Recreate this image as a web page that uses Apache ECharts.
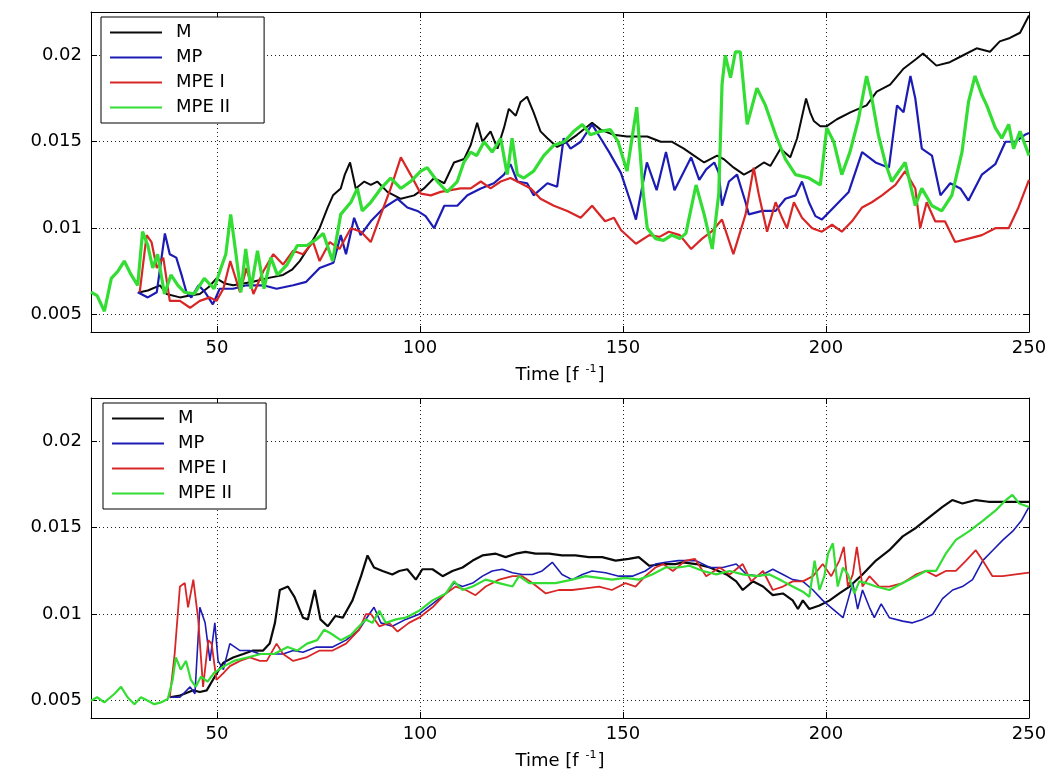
<!DOCTYPE html>
<html>
<head>
<meta charset="utf-8">
<script src="https://cdn.jsdelivr.net/npm/echarts@6/dist/echarts.min.js"></script>
<style>
html,body{margin:0;padding:0;background:#fff;}
#chart{width:1052px;height:771px;}
</style>
</head>
<body>
<div id="chart"></div>
<script>
// ---------- data ----------
const seriesNames = ['M', 'MP', 'MPE I', 'MPE II'];
const xTicks = [50, 100, 150, 200, 250];
const yTicks = [0.005, 0.01, 0.015, 0.02];
const xLabelMain = 'Time [f';
const xLabelSup = '-1';
const xLabelEnd = ']';

// upper panel
const topM = [[31,0.0063],[33,0.0064],[36,0.0067],[37.6,0.0062],[40.9,0.006],[43,0.0061],[45.8,0.0062],[48,0.0066],[49.9,0.0071],[52,0.0068],[54,0.0067],[56.5,0.0068],[58.9,0.0069],[62.2,0.0071],[66.3,0.0073],[68.5,0.0076],[70.4,0.0081],[72.9,0.009],[75.3,0.01],[77.3,0.0112],[78.6,0.0119],[80.5,0.0123],[81.5,0.0131],[82.8,0.0138],[84.2,0.0123],[86.3,0.0127],[87.9,0.0125],[89.5,0.0127],[92,0.0121],[95.3,0.0117],[98.6,0.0119],[101,0.0123],[103.5,0.0129],[106,0.0126],[108.4,0.0138],[110.9,0.014],[112.5,0.0148],[114.1,0.0161],[115.4,0.015],[117.4,0.0156],[119.1,0.0146],[120.7,0.0158],[121.9,0.0169],[123.6,0.0165],[124.8,0.0173],[126.4,0.0176],[128,0.0167],[129.7,0.0156],[131.4,0.0152],[133.8,0.0147],[136.3,0.015],[138.7,0.0154],[142.4,0.0161],[144.5,0.0157],[147.7,0.0154],[151,0.0153],[156,0.0153],[159.3,0.015],[162,0.015],[165,0.0146],[167.5,0.0142],[170,0.0138],[173.2,0.0142],[174.8,0.014],[177.3,0.0135],[179.8,0.0131],[182.2,0.0134],[184.7,0.0138],[186.3,0.0136],[188.8,0.0146],[191.2,0.0141],[192.9,0.0152],[195.1,0.0175],[196.1,0.0167],[197,0.0162],[198.6,0.0159],[200.2,0.0159],[202.7,0.0163],[206,0.0167],[210,0.0171],[212.5,0.0179],[215.8,0.0183],[219,0.0192],[222.3,0.0198],[223.9,0.0201],[227.2,0.0194],[230.5,0.0196],[233.8,0.02],[237.1,0.0204],[240.4,0.0202],[242.8,0.0208],[245.3,0.021],[247.8,0.0213],[250,0.0223]];
const topMP = [[30.5,0.0063],[33,0.006],[35.2,0.0063],[37.2,0.0097],[38.4,0.0085],[40,0.0083],[41.3,0.0073],[42.5,0.0063],[43.7,0.006],[45.5,0.0067],[47.1,0.0063],[49,0.0056],[50.7,0.0065],[54,0.0065],[57.3,0.0067],[61.4,0.0067],[64.7,0.0065],[68.8,0.0067],[72,0.0069],[75.3,0.0077],[78.7,0.008],[80.5,0.0096],[81.8,0.0085],[83.8,0.0106],[85.4,0.0096],[87.9,0.0104],[91.2,0.0112],[94.5,0.0117],[96.9,0.0112],[99.4,0.011],[101.4,0.0107],[103.5,0.01],[106,0.0113],[109.2,0.0113],[111.7,0.0119],[115,0.0123],[118.2,0.0126],[120.7,0.0131],[122.3,0.0137],[124,0.0127],[126.4,0.0126],[128,0.0119],[131.4,0.0126],[133.8,0.0124],[135.4,0.0152],[137.1,0.0146],[139.6,0.0150],[142.4,0.016],[144.5,0.0152],[146.6,0.0144],[149.5,0.0132],[151.9,0.0115],[153.2,0.0105],[155.9,0.0138],[158.3,0.0122],[160.6,0.0144],[162.7,0.0122],[166.8,0.0141],[168.8,0.0128],[170.5,0.0134],[172.5,0.0138],[173.6,0.0132],[174.4,0.0113],[176.1,0.0127],[178.1,0.0131],[180.2,0.0115],[181,0.0108],[184.3,0.011],[187.6,0.011],[190,0.0117],[192.5,0.0119],[194.1,0.0127],[195.8,0.0115],[197.4,0.0107],[199,0.0105],[202.3,0.0113],[205.6,0.0121],[208.9,0.0144],[212.2,0.0138],[215.5,0.0135],[217.5,0.0171],[219.1,0.0167],[220.8,0.0188],[222,0.0175],[223.6,0.0146],[226.1,0.0142],[228.2,0.0119],[230.6,0.0126],[233.1,0.0123],[235.1,0.0116],[238.4,0.0131],[241.7,0.0137],[244.2,0.015],[246.6,0.015],[249,0.0154],[250,0.0155]];
const topMPE1 = [[31,0.0063],[32.7,0.0096],[33.9,0.0092],[35.2,0.0077],[36.8,0.0083],[38.4,0.0058],[40.9,0.0058],[43.4,0.0054],[45.8,0.0058],[48.3,0.006],[49.9,0.0058],[51.6,0.0065],[53.3,0.0081],[55.7,0.0063],[57.3,0.0077],[59,0.0062],[61.4,0.0075],[63.9,0.0085],[66.3,0.0079],[68.8,0.0087],[71.2,0.0085],[73.7,0.0092],[75.3,0.0081],[77.8,0.0092],[80.2,0.0088],[83,0.01],[85.5,0.0098],[87.9,0.0092],[90.4,0.0108],[92.8,0.0123],[95.3,0.0141],[97.7,0.0131],[100.2,0.012],[102.7,0.0119],[105.1,0.0121],[107.6,0.0122],[110,0.0123],[112.5,0.0123],[115,0.0127],[117.4,0.0123],[119.9,0.0127],[122.3,0.0129],[124.8,0.0126],[127.3,0.0123],[129.7,0.0117],[133,0.0113],[136.3,0.011],[139.6,0.0106],[142.4,0.0113],[145.6,0.0104],[147.8,0.0106],[149.5,0.0099],[153.2,0.0091],[156.5,0.0096],[159,0.0095],[161.3,0.0098],[164,0.0096],[166.8,0.0088],[169.5,0.0094],[171.8,0.0098],[174.4,0.0105],[177.2,0.0085],[180.2,0.0108],[182.2,0.0135],[183.5,0.0119],[185.5,0.0098],[187.6,0.0115],[189.2,0.0106],[190.4,0.01],[192.1,0.0115],[194.1,0.0106],[196.6,0.01],[199,0.0098],[201.5,0.0102],[203.9,0.0098],[206.4,0.0104],[208.9,0.0112],[211.3,0.0115],[213.8,0.0119],[217.1,0.0125],[219.5,0.0133],[222,0.0123],[223.2,0.01],[224.8,0.0115],[226.9,0.0104],[229.3,0.0104],[231.8,0.0092],[235.1,0.0094],[238.4,0.0096],[241.7,0.01],[245,0.01],[247.4,0.0112],[250,0.0128]];
const topMPE2 = [[19,0.0063],[20.5,0.0061],[22.3,0.0052],[24,0.0071],[25.6,0.0075],[27.2,0.0081],[28.9,0.0073],[30.5,0.0067],[31.7,0.0098],[33,0.009],[34.2,0.0077],[35.4,0.0085],[37.1,0.0062],[38.7,0.0073],[40.4,0.0067],[42,0.0063],[44.4,0.0062],[46.9,0.0071],[49.3,0.0065],[51,0.0077],[52.2,0.0085],[53.4,0.0108],[54.7,0.0085],[55.9,0.0063],[57.1,0.0088],[58.4,0.0065],[60,0.0087],[61.6,0.0065],[63.3,0.0083],[64.9,0.0073],[67.3,0.0079],[69.8,0.009],[72.2,0.009],[74.7,0.0094],[76.2,0.0097],[78.5,0.0081],[80.5,0.0108],[83,0.0115],[84.6,0.0123],[85.8,0.011],[87.9,0.0115],[90.4,0.0123],[92.8,0.0129],[95.3,0.0123],[97.7,0.0127],[100.2,0.0133],[101.8,0.0135],[104.3,0.0127],[106.7,0.0121],[109.2,0.0127],[110.8,0.0138],[112.5,0.0144],[114,0.0142],[115.8,0.015],[117.8,0.0144],[119.9,0.0152],[121.5,0.0131],[122.7,0.0152],[124,0.0131],[125.6,0.0129],[128,0.0133],[130.5,0.0142],[133,0.0148],[135.5,0.015],[137.9,0.0156],[140,0.016],[142,0.0154],[144.5,0.0156],[146.9,0.0157],[148.8,0.015],[151,0.0133],[153.4,0.017],[155,0.012],[156,0.01],[158,0.0094],[160,0.0093],[162,0.0096],[164,0.0094],[165.5,0.0097],[168,0.0125],[170,0.0108],[172,0.0088],[173.6,0.012],[174.4,0.0183],[175.2,0.02],[176.5,0.0187],[177.7,0.0202],[178.9,0.0202],[180.6,0.016],[183,0.0181],[185.1,0.0171],[187.6,0.0154],[190,0.014],[192.5,0.0131],[195.8,0.0129],[198.6,0.0125],[200.2,0.0158],[201.9,0.015],[203.9,0.0131],[205.9,0.0144],[208,0.0163],[210,0.0188],[211.3,0.0175],[212.9,0.0154],[214.6,0.0138],[216.2,0.0127],[219.5,0.0138],[222,0.0113],[223.6,0.0123],[226.1,0.0113],[228.5,0.011],[231,0.0119],[233.5,0.0144],[235.1,0.0173],[236.7,0.0188],[238.4,0.0177],[239.6,0.0171],[241.7,0.0158],[243.3,0.0152],[245,0.016],[246.2,0.0146],[247.8,0.0156],[250,0.0142]];

// lower panel
const botM = [[38.4,0.0052],[40.9,0.0053],[44.2,0.0056],[45.8,0.0055],[47.5,0.0056],[49.5,0.0064],[51.6,0.0072],[54,0.0075],[56.5,0.0077],[58.9,0.0079],[61.4,0.0079],[63,0.0083],[64.3,0.0095],[65.5,0.0114],[67.5,0.0116],[69.1,0.011],[71.2,0.0098],[72.4,0.0097],[74.1,0.0114],[75.5,0.0097],[77.3,0.0093],[79.2,0.0099],[81,0.0098],[83.4,0.0108],[85.5,0.0122],[87.1,0.0134],[88.7,0.0127],[90.8,0.0125],[93.2,0.0123],[94.9,0.0125],[96.9,0.0126],[99,0.012],[100.6,0.0126],[103.1,0.0126],[105.6,0.0122],[108,0.0125],[110.5,0.0127],[113,0.0131],[115.4,0.0134],[118.7,0.0135],[121.1,0.0133],[123.6,0.0135],[126,0.0136],[128.5,0.0135],[131.8,0.0135],[135,0.0134],[138.3,0.0134],[141.6,0.0133],[144.9,0.0133],[148.2,0.0131],[151.4,0.0132],[153.9,0.0133],[156.5,0.0128],[159.6,0.0129],[162.9,0.0129],[164.8,0.013],[168,0.0129],[171.4,0.0127],[175.5,0.0123],[177.9,0.0119],[179.5,0.0114],[182,0.0119],[184.5,0.0116],[186.9,0.0111],[189.4,0.0112],[191.8,0.0108],[193.1,0.0103],[194.3,0.0108],[195.9,0.0103],[198.4,0.0105],[200.9,0.0108],[203.3,0.0112],[205.8,0.0116],[209,0.0123],[212.3,0.0131],[215.6,0.0137],[218.9,0.0145],[222.2,0.015],[225.4,0.0156],[228.7,0.0162],[231.1,0.0166],[233.6,0.0164],[236.9,0.0166],[240,0.0165],[245,0.0165],[250,0.0165]];
const botMP = [[38.4,0.0052],[40.9,0.0052],[43.4,0.0058],[44.6,0.0054],[45.8,0.0104],[47.1,0.0095],[48.3,0.0073],[49.5,0.0095],[50.3,0.0073],[51.6,0.0068],[53.2,0.0083],[55.7,0.0079],[58.1,0.0079],[60.6,0.0077],[63.9,0.0077],[66.3,0.0077],[68.8,0.0079],[71.2,0.0078],[74.5,0.0081],[78.5,0.0081],[81.8,0.0085],[85,0.0091],[87.5,0.01],[88.7,0.0104],[90.4,0.0095],[93.2,0.0093],[96.5,0.0097],[99.8,0.01],[103.1,0.0106],[106.4,0.0112],[108.4,0.0118],[110.5,0.0116],[113,0.0118],[115.4,0.0122],[117.8,0.0125],[120.3,0.0126],[122.8,0.0124],[125.2,0.0123],[127.7,0.0123],[130.1,0.0125],[132.6,0.013],[135,0.0123],[137.5,0.012],[140,0.0123],[142.4,0.0125],[145.7,0.0124],[149,0.0122],[152.3,0.0122],[155.5,0.0125],[158,0.0129],[160.5,0.013],[163.7,0.0131],[166,0.0131],[168,0.0131],[171.4,0.0127],[174.6,0.0127],[177.9,0.0129],[180.4,0.0123],[183.7,0.0122],[186.9,0.0126],[189.4,0.0123],[191.8,0.012],[194.3,0.0119],[196.8,0.0114],[199.2,0.0108],[201.7,0.0103],[204.2,0.0098],[205.4,0.0108],[206.6,0.0118],[207.8,0.0103],[209,0.0114],[210.7,0.0104],[211.9,0.0098],[213.6,0.0106],[215.6,0.0098],[218.9,0.0096],[221.3,0.0095],[223.8,0.0097],[226.3,0.01],[228.7,0.0109],[231.2,0.0114],[233.6,0.0116],[236.1,0.012],[238.6,0.0131],[241.1,0.0137],[243.6,0.0143],[246,0.0148],[248.1,0.0154],[250,0.0162]];
const botMPE1 = [[38.4,0.0052],[39.6,0.0077],[40.9,0.0116],[42.1,0.0118],[42.9,0.0104],[44.2,0.012],[45.4,0.0097],[46.6,0.0058],[47.9,0.0085],[48.7,0.0083],[49.9,0.0062],[51.6,0.0066],[53.2,0.007],[55.7,0.0073],[58.1,0.0075],[60.6,0.0073],[62.3,0.0073],[64.7,0.0083],[66.3,0.0077],[68.8,0.0073],[72,0.0075],[75.3,0.0079],[78.5,0.0079],[81.8,0.0083],[85,0.0091],[86.7,0.01],[88,0.01],[90,0.0093],[92.4,0.0095],[94.5,0.009],[97.3,0.0095],[99.8,0.0098],[103.1,0.0104],[106.4,0.0112],[108.8,0.0116],[111.3,0.0114],[113.7,0.0111],[116.2,0.0116],[119.5,0.012],[122.8,0.0122],[125.2,0.0122],[127.7,0.0118],[131,0.0112],[134.2,0.0114],[137.5,0.0114],[140.8,0.0115],[144.1,0.0116],[147.3,0.0114],[150.6,0.0118],[153.1,0.0116],[155.5,0.0122],[158,0.0127],[159.9,0.0129],[162.3,0.0125],[165.4,0.0131],[167.7,0.0132],[170.5,0.0122],[173.8,0.0127],[176.3,0.0123],[179.5,0.0129],[181.6,0.0119],[184.5,0.0125],[186.9,0.0114],[189.4,0.0116],[191.8,0.0119],[194.3,0.0119],[196.8,0.0122],[199.2,0.0129],[201.3,0.0122],[203.3,0.0131],[204.4,0.0139],[205.4,0.0116],[206.6,0.0123],[207.6,0.0139],[209,0.0116],[210.7,0.0122],[213.1,0.0116],[215.6,0.0116],[218.9,0.0118],[222.2,0.0123],[224.6,0.0125],[227.1,0.0122],[229.5,0.0125],[232,0.0125],[234.5,0.0131],[236.9,0.0137],[238.6,0.0131],[241,0.0122],[243.5,0.0122],[246.7,0.0123],[250,0.0124]];
const botMPE2 = [[19,0.005],[20.5,0.0052],[22.3,0.0049],[24.8,0.0054],[26.4,0.0058],[28,0.0052],[29.7,0.0048],[31.3,0.0052],[33,0.005],[34.6,0.0048],[36.2,0.0049],[37.9,0.0051],[39.1,0.0062],[39.9,0.0075],[41.1,0.0068],[42.4,0.0073],[43.6,0.0062],[44.8,0.0058],[46.1,0.0064],[47.7,0.0061],[49.3,0.0066],[51.8,0.007],[54.2,0.0073],[57.5,0.0075],[60.8,0.0077],[64.1,0.0077],[67.4,0.0081],[69.8,0.0079],[72.2,0.0083],[74.7,0.0085],[76.4,0.0091],[78,0.0089],[80.5,0.0085],[83,0.0088],[84.2,0.0091],[86.7,0.0097],[88.3,0.0095],[90,0.0102],[91.6,0.0095],[94.1,0.0097],[96.5,0.0098],[99.8,0.0102],[103.1,0.0108],[106.4,0.0112],[108.4,0.0119],[110.5,0.0114],[113,0.0116],[116.2,0.012],[119.5,0.0118],[122.8,0.0116],[124.4,0.0122],[126.9,0.0118],[130.1,0.0118],[133.4,0.0118],[137.5,0.012],[140.8,0.0122],[144.1,0.0121],[147.3,0.012],[150.6,0.0121],[153.9,0.012],[157.2,0.0123],[160.5,0.0127],[163.7,0.0127],[166.4,0.0128],[169.7,0.0125],[173,0.0123],[176.3,0.0125],[179.5,0.0123],[182.8,0.0122],[186.1,0.0123],[189.4,0.0119],[191.8,0.0116],[194.3,0.0113],[195.9,0.011],[197.2,0.0131],[198.4,0.0114],[199.6,0.0122],[200.5,0.0135],[201.7,0.0141],[202.9,0.0116],[204.2,0.0127],[205.4,0.0123],[207,0.0112],[208.2,0.0119],[209.9,0.0118],[212.3,0.0116],[215.6,0.0114],[218.9,0.0118],[222.2,0.0122],[224.6,0.0125],[227.1,0.0125],[229.5,0.0135],[232,0.0143],[235.3,0.0148],[238.6,0.0154],[241.8,0.016],[244.3,0.0166],[245.9,0.0169],[247.6,0.0164],[250,0.0162]];

// ---------- chart ----------
const FONT = 'DejaVu Sans';
const colors = ['#0a0a0a', '#1c1cb4', '#d82626', '#33dd33'];
const topWidths = [2, 2.2, 2.2, 3.2];
const botWidths = [2.2, 1.6, 1.8, 2.2];
const X_MIN = 19, X_MAX = 250, Y_MIN = 0.004, Y_MAX = 0.0225;

const chart = echarts.init(document.getElementById('chart'), null, {renderer: 'canvas'});

const fmtY = v => String(parseFloat(Number(v).toFixed(4)));
const axisName = '{a|' + xLabelMain + ' }{s|' + xLabelSup + '}{a|' + xLabelEnd + '}';

function mainX(gi) {
  return {
    type: 'value', gridIndex: gi, min: X_MIN, max: X_MAX, position: 'bottom',
    axisLine: {show: true, onZero: false, lineStyle: {color: '#000', width: 1}},
    axisTick: {show: true, inside: true, length: 6, customValues: xTicks, lineStyle: {color: '#000'}},
    axisLabel: {show: true, customValues: xTicks, color: '#000', fontSize: 18, fontFamily: FONT, margin: 7},
    splitLine: {show: true, lineStyle: {color: '#222', width: 1, type: [1, 3]}},
    name: axisName,
    nameLocation: 'middle', nameGap: 32,
    nameTextStyle: {
      rich: {
        a: {fontSize: 18, fontFamily: FONT, color: '#000', lineHeight: 22},
        s: {fontSize: 11, fontFamily: FONT, color: '#000', verticalAlign: 'top', lineHeight: 22, padding: [0, 1, 8, 1]}
      }
    }
  };
}
function topX(gi) {
  return {
    type: 'value', gridIndex: gi, min: X_MIN, max: X_MAX, position: 'top',
    axisLine: {show: true, onZero: false, lineStyle: {color: '#000', width: 1}},
    axisTick: {show: true, inside: true, length: 6, customValues: xTicks, lineStyle: {color: '#000'}},
    axisLabel: {show: false}, splitLine: {show: false}
  };
}
function mainY(gi) {
  return {
    type: 'value', gridIndex: gi, min: Y_MIN, max: Y_MAX, position: 'left',
    axisLine: {show: true, onZero: false, lineStyle: {color: '#000', width: 1}},
    axisTick: {show: true, inside: true, length: 6, customValues: yTicks, lineStyle: {color: '#000'}},
    axisLabel: {show: true, customValues: yTicks, formatter: fmtY, color: '#000', fontSize: 18, fontFamily: FONT, margin: 9},
    splitLine: {show: true, lineStyle: {color: '#222', width: 1, type: [1, 3]}}
  };
}
function rightY(gi) {
  return {
    type: 'value', gridIndex: gi, min: Y_MIN, max: Y_MAX, position: 'right',
    axisLine: {show: true, onZero: false, lineStyle: {color: '#000', width: 1}},
    axisTick: {show: true, inside: true, length: 6, customValues: yTicks, lineStyle: {color: '#000'}},
    axisLabel: {show: false}, splitLine: {show: false}
  };
}

const topData = [topM, topMP, topMPE1, topMPE2];
const botData = [botM, botMP, botMPE1, botMPE2];
const series = [];
seriesNames.forEach((n, i) => {
  series.push({
    name: n, type: 'line', xAxisIndex: 0, yAxisIndex: 0, data: topData[i],
    showSymbol: false, symbol: 'none', animation: false, z: 2 + i,
    lineStyle: {color: colors[i], width: topWidths[i]}, itemStyle: {color: colors[i]}
  });
});
seriesNames.forEach((n, i) => {
  series.push({
    name: n, type: 'line', xAxisIndex: 1, yAxisIndex: 1, data: botData[i],
    showSymbol: false, symbol: 'none', animation: false, z: 2 + i,
    lineStyle: {color: colors[i], width: botWidths[i]}, itemStyle: {color: colors[i]}
  });
});

function legend(left, top) {
  return {
    show: true, left: left, top: top, orient: 'vertical',
    data: seriesNames, icon: 'rect', itemWidth: 52, itemHeight: 2, itemGap: 0,
    padding: [3, 34, 3, 9], borderColor: '#000', borderWidth: 1, backgroundColor: '#fff',
    selectedMode: false,
    textStyle: {fontSize: 18, fontFamily: FONT, color: '#000', lineHeight: 25, padding: [0, 0, 0, 9]},
    z: 10
  };
}

const option = {
  backgroundColor: '#fff',
  animation: false,
  grid: [
    {left: 91, top: 12, width: 938, height: 320},
    {left: 91, top: 398, width: 938, height: 320}
  ],
  xAxis: [mainX(0), mainX(1), topX(0), topX(1)],
  yAxis: [mainY(0), mainY(1), rightY(0), rightY(1)],
  legend: [legend(101, 17), legend(103, 403)],
  series: series
};
chart.setOption(option);
</script>
</body>
</html>
